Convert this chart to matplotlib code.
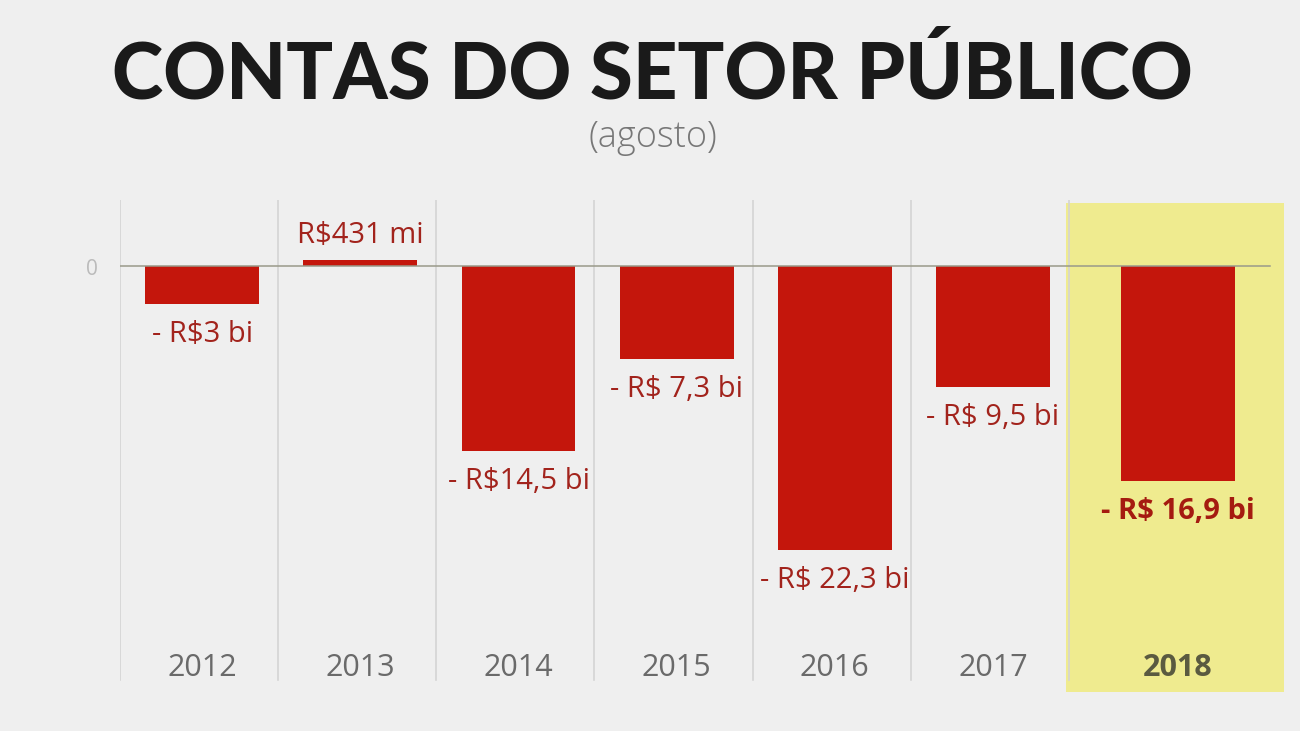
import matplotlib
matplotlib.use("Agg")
import matplotlib.pyplot as plt
import numpy as np
from matplotlib.patches import Rectangle

years = ["2012", "2013", "2014", "2015", "2016", "2017", "2018"]
values = [-3.0, 0.431, -14.5, -7.3, -22.3, -9.5, -16.9]
labels = ["- R$3 bi", "R$431 mi", "- R$14,5 bi", "- R$ 7,3 bi", "- R$ 22,3 bi", "- R$ 9,5 bi", "- R$ 16,9 bi"]
title = "CONTAS DO SETOR PÚBLICO"
subtitle = "(agosto)"

BG = "#efefef"
RED = "#c4160c"
LABEL_RED = "#a2231c"
YELLOW = "#efeb8f"

fig = plt.figure(figsize=(13, 7.31), dpi=100, facecolor=BG)
ax = fig.add_axes([120/1300, 39/731, 1164/1300, 492/731])
ax.set_facecolor(BG)
ax.set_xlim(0, 7.36)
ax.set_ylim(-33.46, 5.18)
for s in ax.spines.values():
    s.set_visible(False)
ax.set_xticks([])
ax.set_yticks([])

n = len(years)
pos = np.arange(n) + 0.52
pos[-1] += 0.17  # highlighted column is wider

# highlight box
ax.add_patch(Rectangle((5.98, -33.46), 1.38, 38.4, facecolor=YELLOW, edgecolor="none", zorder=0))

# vertical separators
for b in range(n):
    ax.plot([b, b], [-32.5, 5.18], color="#d4d4d4", lw=1.2, zorder=1)

# zero line
ax.plot([0, 7.27], [0, 0], color="#9a9a8a", lw=1.1, zorder=3)
ax.text(-0.18, -0.3, "0", ha="center", va="center", fontsize=15, color="#bbbbbb", family="Open Sans")

bars = ax.bar(pos, values, width=0.72, color=RED, zorder=2)

for i, (x, v, lab) in enumerate(zip(pos, values, labels)):
    last = i == n - 1
    if v < 0:
        ax.annotate(lab, (x, v), xytext=(0, -22), textcoords="offset points",
                    ha="center", va="center", fontsize=21,
                    color="#a51b10" if last else LABEL_RED,
                    fontweight="bold" if last else "normal", family="Open Sans")
    else:
        ax.annotate(lab, (x, v), xytext=(0, 18), textcoords="offset points",
                    ha="center", va="center", fontsize=21, color=LABEL_RED, family="Open Sans")
    ax.text(x, -31.6, years[i], ha="center", va="center", fontsize=22,
            color="#5a5a40" if last else "#6a6a6a",
            fontweight="bold" if last else "normal", family="Open Sans")

fig.text(0.502, 1 - 75/731, title, ha="center", va="center", fontsize=56,
         fontweight="black", color="#1a1a1a", family="Lato")
fig.text(0.502, 1 - 138/731, subtitle, ha="center", va="center", fontsize=26,
         fontweight="light", color="#777777", family="Open Sans")

fig.savefig("out.png", dpi=100, facecolor=BG)
